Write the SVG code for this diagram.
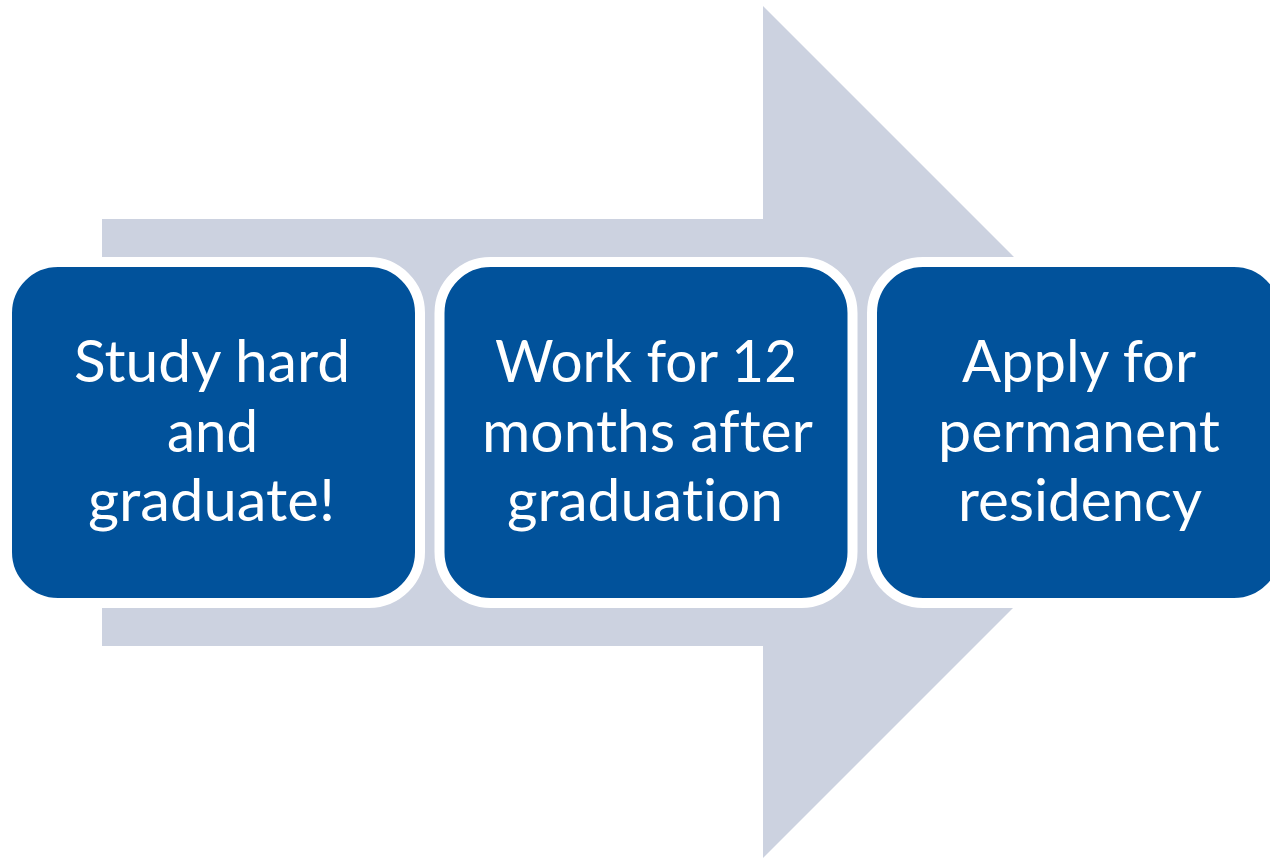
<svg xmlns="http://www.w3.org/2000/svg" width="1270" height="859" viewBox="0 0 1270 859">
<style>
.box{fill:#01529B;stroke:#FFFFFF;stroke-width:10}
.lbl{font-family:Lato,"Open Sans","Liberation Sans",sans-serif;font-size:58px;fill:#FFFFFF;text-anchor:middle;font-variant-ligatures:none;font-feature-settings:"liga" 0,"dlig" 0,"clig" 0}
</style>
<rect width="1270" height="859" fill="#FFFFFF"/>
<g id="connectors">
<path id="big-arrow" d="M102,219 H763 V6 L1189,432 L763,858 V646 H102 Z" fill="#CCD2E0"/>
</g>
<g id="node-study">
<rect class="box" x="7" y="262" width="413" height="341" rx="51" ry="51"/>
<text class="lbl"><tspan x="212" y="382" textLength="276" lengthAdjust="spacingAndGlyphs">Study hard</tspan><tspan x="212.5" y="451.5" textLength="91" lengthAdjust="spacingAndGlyphs">and</tspan><tspan x="211.5" y="521" textLength="247" lengthAdjust="spacingAndGlyphs">graduate!</tspan></text>
</g>
<g id="node-work">
<rect class="box" x="439.5" y="262" width="413" height="341" rx="51" ry="51"/>
<text class="lbl"><tspan x="646" y="382" textLength="302" lengthAdjust="spacingAndGlyphs">Work for 12</tspan><tspan x="647.5" y="451.5" textLength="331" lengthAdjust="spacingAndGlyphs">months after</tspan><tspan x="645" y="521" textLength="276" lengthAdjust="spacingAndGlyphs">graduation</tspan></text>
</g>
<g id="node-apply">
<rect class="box" x="872" y="262" width="413" height="341" rx="51" ry="51"/>
<text class="lbl"><tspan x="1079" y="382" textLength="234" lengthAdjust="spacingAndGlyphs">Apply for</tspan><tspan x="1079" y="451.5" textLength="282" lengthAdjust="spacingAndGlyphs">permanent</tspan><tspan x="1080" y="521" textLength="244" lengthAdjust="spacingAndGlyphs">residency</tspan></text>
</g>
</svg>
